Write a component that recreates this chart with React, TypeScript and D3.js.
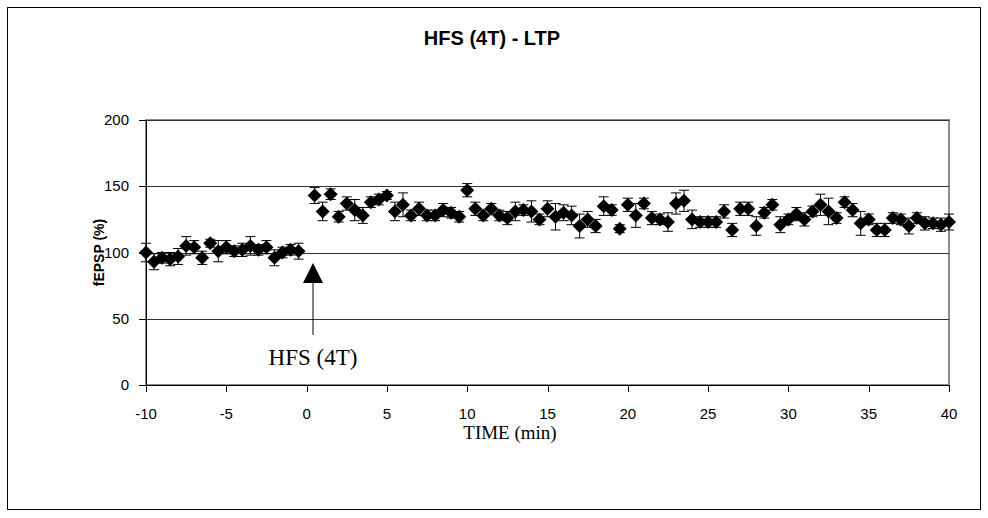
import React from "react";
import * as d3 from "d3";

const preTimes = [-10, -9.5, -9, -8.5, -8, -7.5, -7, -6.5, -6, -5.5, -5, -4.5, -4, -3.5, -3, -2.5, -2, -1.5, -1, -0.5];
const preValues = [100, 93, 96, 95, 97, 105, 104, 96, 107, 101, 104, 101, 102, 105, 102, 104, 96, 100, 102, 101];
const preErrors = [7, 6, 4, 5, 6, 7, 5, 5, 3, 8, 5, 4, 5, 7, 4, 5, 6, 4, 4, 6];

const postValues = [
  143, 131, 144, 127, 137, 132, 128, 138, 140, 143,
  131, 136, 128, 133, 128, 128, 132, 130, 127, 147,
  133, 128, 133, 128, 126, 131, 132, 131, 125, 133,
  127, 130, 128, 120, 125, 120, 135, 132, 118, 136,
  128, 137, 126, 125, 123, 137, 139, 125, 123, 123,
  123, 131, 117, 133, 133, 120, 130, 136, 121, 125,
  129, 125, 131, 136, 131, 126, 138, 132, 122, 125,
  117, 117, 126, 125, 120, 126, 122, 122, 121, 123,
];
const postErrors = [
  6, 7, 4, 4, 5, 8, 6, 4, 4, 3,
  7, 9, 4, 5, 4, 4, 5, 4, 4, 5,
  5, 4, 4, 4, 5, 7, 4, 8, 4, 6,
  10, 6, 7, 9, 6, 5, 7, 4, 3, 5,
  9, 4, 5, 4, 7, 8, 8, 7, 4, 4,
  4, 5, 5, 5, 5, 7, 4, 4, 6, 4,
  5, 5, 4, 8, 10, 4, 4, 5, 9, 4,
  5, 5, 4, 4, 6, 4, 5, 4, 5, 6,
];
const postTimes = postValues.map((_, i) => 0.5 * (i + 1));

const xTicks = [-10, -5, 0, 5, 10, 15, 20, 25, 30, 35, 40];
const yTicks = [0, 50, 100, 150, 200];

const title = "HFS (4T) - LTP";
const xTitle = "TIME (min)";
const yTitle = "fEPSP (%)";
const annotation = "HFS (4T)";
const annotationTime = 0.4;

export default function App() {
  const W = 988, H = 518;
  const left = 146, right = 949, top = 120, bottom = 385;
  const x = d3.scaleLinear().domain([-10, 40]).range([left, right]);
  const y = d3.scaleLinear().domain([0, 200]).range([bottom, top]);

  const points = [
    ...preTimes.map((t, i) => ({ t, v: preValues[i], e: preErrors[i] })),
    ...postTimes.map((t, i) => ({ t, v: postValues[i], e: postErrors[i] })),
  ];
  const ds = 7;
  const diamond = (cx: number, cy: number) =>
    `M${cx},${cy - ds}L${cx + ds},${cy}L${cx},${cy + ds}L${cx - ds},${cy}Z`;

  const ax = x(annotationTime);
  const arrowTop = y(92);

  return (
    <svg width={W} height={H} style={{ position: "absolute", left: 0, top: 0, background: "#fff" }}>
      <rect x={7.5} y={7.5} width={973} height={502} fill="#fff" stroke="#000" strokeWidth={1} />
      <text x={492} y={45} textAnchor="middle" fontFamily="Arial, 'Liberation Sans', sans-serif" fontWeight="bold" fontSize={20}>{title}</text>

      {/* plot area border */}
      <rect x={left} y={top} width={right - left} height={bottom - top} fill="none" stroke="#8c8c8c" strokeWidth={2} />
      {/* gridlines */}
      {yTicks.filter((v) => v > 0).map((v) => (
        <line key={"g" + v} x1={left} x2={right} y1={Math.round(y(v)) + 0.5} y2={Math.round(y(v)) + 0.5} stroke="#333" strokeWidth={1} />
      ))}
      {/* axes */}
      <line x1={left + 0.5} x2={left + 0.5} y1={top} y2={bottom} stroke="#000" strokeWidth={1} />
      <line x1={left} x2={right} y1={bottom + 0.5} y2={bottom + 0.5} stroke="#000" strokeWidth={1} />
      {yTicks.map((v) => (
        <g key={"y" + v}>
          <line x1={left - 7} x2={left} y1={Math.round(y(v)) + 0.5} y2={Math.round(y(v)) + 0.5} stroke="#000" />
          <text x={129} y={y(v) + 5} textAnchor="end" fontFamily="Arial, 'Liberation Sans', sans-serif" fontSize={15}>{v}</text>
        </g>
      ))}
      {xTicks.map((t) => (
        <g key={"x" + t}>
          <line x1={Math.round(x(t)) + 0.5} x2={Math.round(x(t)) + 0.5} y1={bottom} y2={bottom + 7} stroke="#000" />
          <text x={x(t)} y={419} textAnchor="middle" fontFamily="Arial, 'Liberation Sans', sans-serif" fontSize={15}>{t}</text>
        </g>
      ))}

      {/* error bars */}
      {points.map((p, i) => {
        const cx = x(p.t);
        return (
          <g key={"e" + i} stroke="#000" strokeWidth={1}>
            <line x1={cx} x2={cx} y1={y(p.v + p.e)} y2={y(p.v - p.e)} />
            <line x1={cx - 5} x2={cx + 5} y1={y(p.v + p.e)} y2={y(p.v + p.e)} />
            <line x1={cx - 5} x2={cx + 5} y1={y(p.v - p.e)} y2={y(p.v - p.e)} />
          </g>
        );
      })}
      {points.map((p, i) => (
        <path key={"d" + i} d={diamond(x(p.t), y(p.v))} fill="#000" />
      ))}

      {/* annotation arrow */}
      <path d={`M${ax},${arrowTop}L${ax + 10},${arrowTop + 20}L${ax - 10},${arrowTop + 20}Z`} fill="#000" />
      <line x1={ax} x2={ax} y1={arrowTop + 20} y2={335} stroke="#000" strokeWidth={1} />
      <text x={ax} y={365} textAnchor="middle" fontFamily="'Times New Roman', 'Liberation Serif', serif" fontSize={23}>{annotation}</text>

      <text x={510} y={439} textAnchor="middle" fontFamily="'Times New Roman', 'Liberation Serif', serif" fontSize={19}>{xTitle}</text>
      <text transform={`translate(104,${(top + bottom) / 2}) rotate(-90)`} textAnchor="middle" fontFamily="Arial, 'Liberation Sans', sans-serif" fontWeight="bold" fontSize={14}>{yTitle}</text>
    </svg>
  );
}
